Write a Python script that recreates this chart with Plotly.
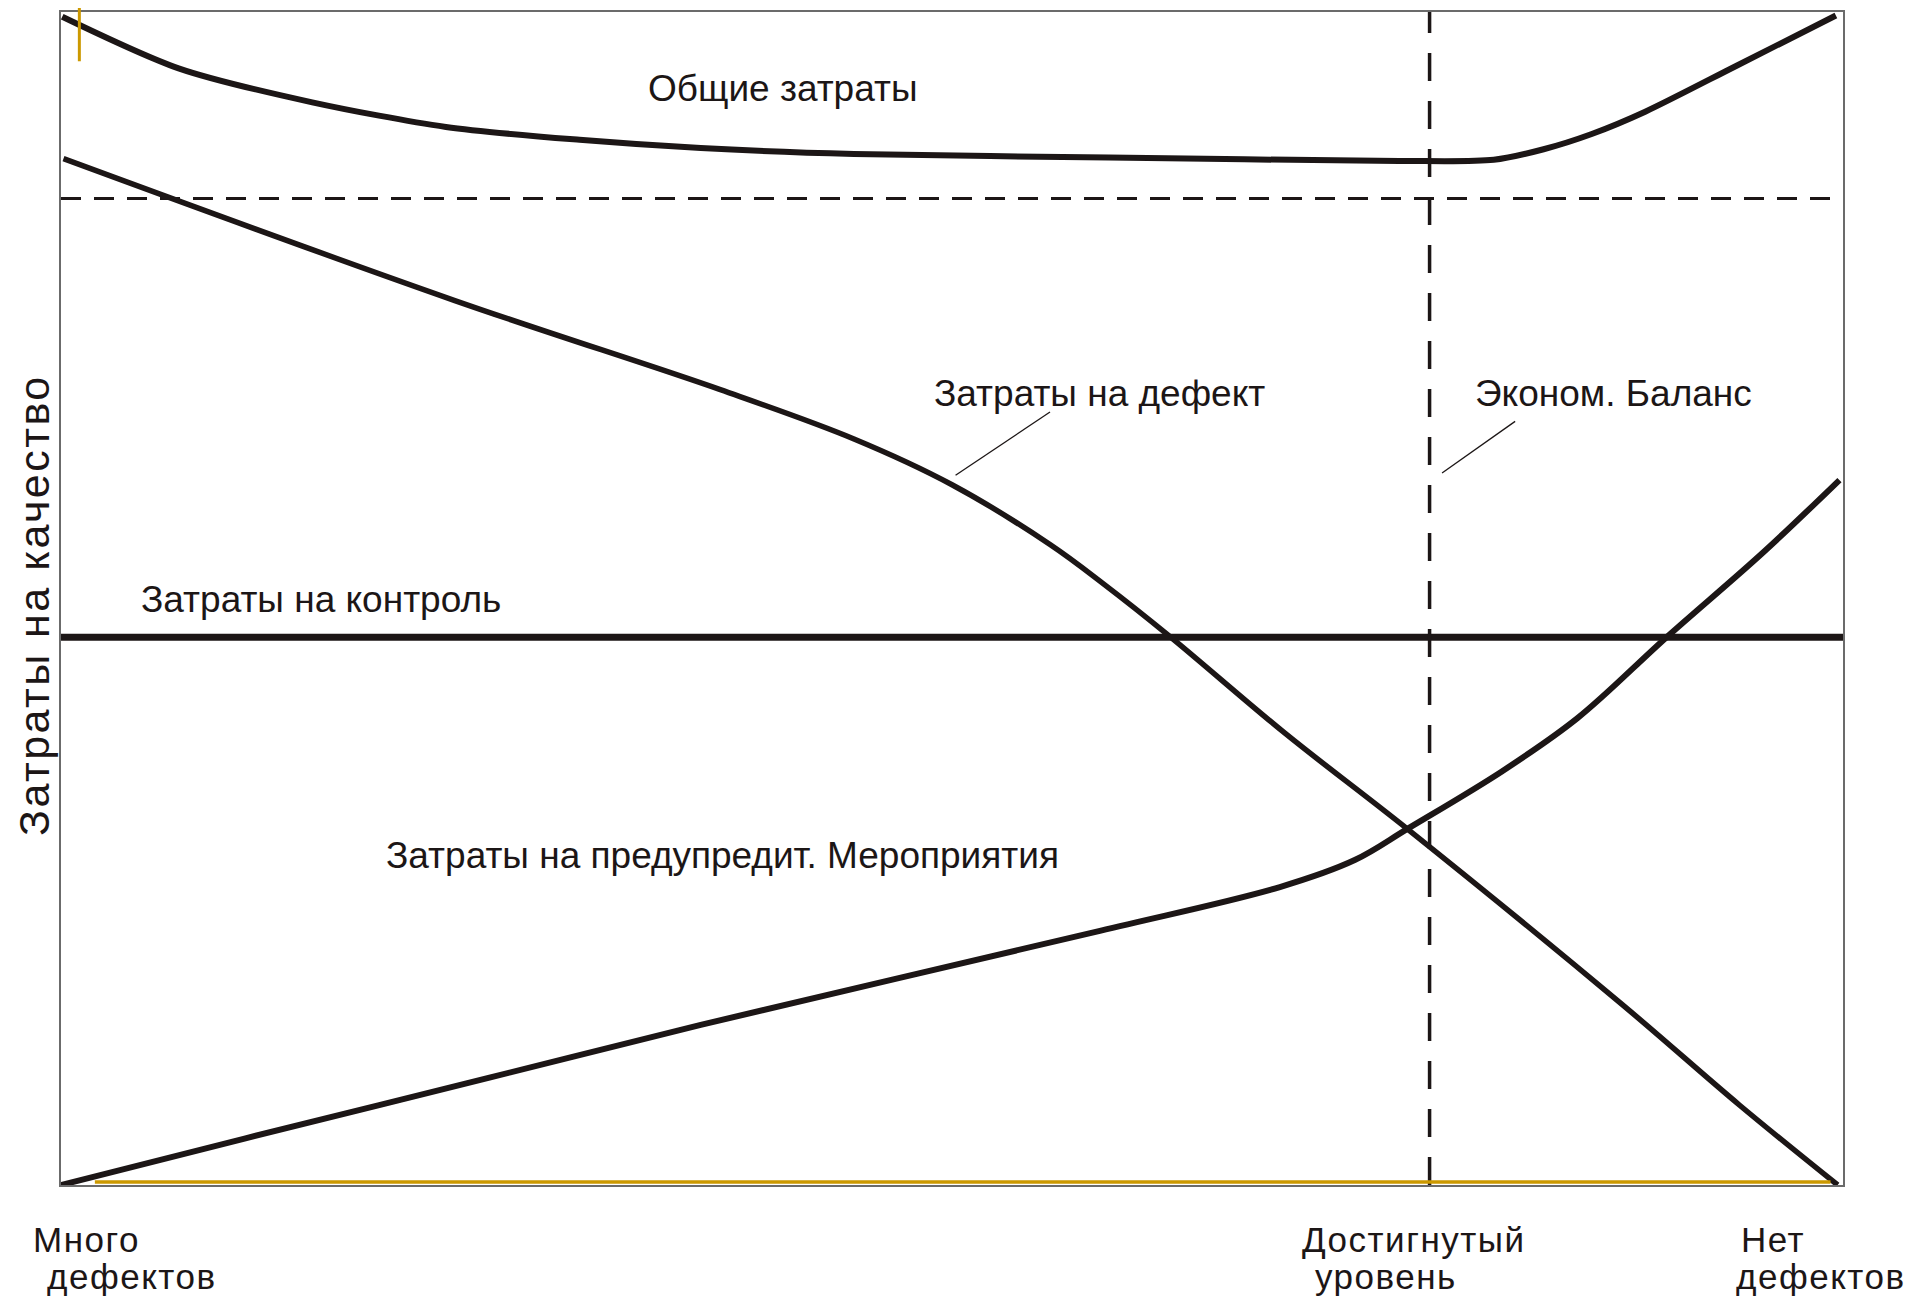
import plotly.graph_objects as go

# x: 0 = "много дефектов", 100 = "нет дефектов"; y: затраты (0..100)
total_x = [0.07, 6.6, 14.1, 21.6, 29.1, 35.9, 44.5, 58.8, 75.1, 80.4, 83.2, 85.9, 88.9, 94.0, 99.6]
total_y = [99.6, 95.2, 92.3, 90.2, 89.1, 88.4, 87.9, 87.6, 87.3, 87.4, 88.3, 89.6, 91.5, 95.4, 99.7]

defect_x = [0.14, 22.1, 37.0, 44.5, 50.0, 55.5, 58.5, 62.2, 68.7, 75.6, 87.6, 94.2, 99.7]
defect_y = [87.5, 75.4, 67.8, 63.6, 59.7, 54.6, 51.25, 46.8, 38.5, 30.3, 15.4, 6.8, 0.0]

prevent_x = [0.0, 10.3, 24.1, 35.9, 58.3, 68.4, 72.6, 75.6, 80.9, 85.1, 90.1, 95.5, 99.8]
prevent_y = [0.0, 3.96, 9.17, 13.65, 21.67, 25.4, 27.7, 30.4, 35.3, 39.8, 46.7, 53.9, 60.1]

control_x = [0, 100]
control_y = [46.7, 46.7]

ref_level_y = 84.1      # горизонтальная пунктирная линия
balance_x = 76.8        # экономический баланс

labels = ["Общие затраты", "Затраты на дефект", "Эконом. Баланс",
          "Затраты на контроль", "Затраты на предупредит. Мероприятия"]
label_x = [40.5, 58.3, 87.1, 14.6, 37.1]
label_y = [93.5, 67.5, 67.5, 49.9, 28.1]

# выноски: (x0, y0, x1, y1)
leaders = [(55.5, 65.9, 50.2, 60.5), (81.6, 65.1, 77.5, 60.7)]

# подписи под осью (доли области построения)
bottom_text = ["Много", "дефектов", "Достигнутый", "уровень", "Нет", "дефектов"]
bottom_x = [-0.0171, -0.0088, 0.6953, 0.7024, 0.9415, 0.939]
bottom_y = [-0.0468, -0.0783, -0.0468, -0.0783, -0.0468, -0.0783]

FONT = "Liberation Sans, Arial, sans-serif"
INK = "#1c1616"
GOLD = "#CC9900"


def spaced(t, px):
    return '<span style="letter-spacing:%spx">%s</span>' % (px, t)


fig = go.Figure()

for xs, ys, w, sm in [(total_x, total_y, 6, 0.8), (defect_x, defect_y, 5.5, 1.0),
                      (prevent_x, prevent_y, 6, 1.0), (control_x, control_y, 7, 1.0)]:
    fig.add_trace(go.Scatter(x=xs, y=ys, mode="lines", cliponaxis=False,
                             line=dict(color=INK, width=w, shape="spline", smoothing=sm),
                             hoverinfo="skip", showlegend=False))

# пунктирные линии
fig.add_trace(go.Scatter(x=[0, 100], y=[ref_level_y, ref_level_y], mode="lines",
                         line=dict(color=INK, width=3, dash="20px,13px"),
                         hoverinfo="skip", showlegend=False))
fig.add_trace(go.Scatter(x=[balance_x, balance_x], y=[0, 100], mode="lines",
                         line=dict(color=INK, width=3.5, dash="28px,20px"),
                         hoverinfo="skip", showlegend=False))

# жёлтые отметки
fig.add_shape(type="line", xref="x", yref="y", x0=1.9, x1=99.3, y0=0.25, y1=0.25,
              line=dict(color=GOLD, width=3.5))
fig.add_shape(type="line", xref="x", yref="paper", x0=1.03, x1=1.03, y0=0.958, y1=1.01,
              line=dict(color=GOLD, width=3))

for x0, y0, x1, y1 in leaders:
    fig.add_shape(type="line", xref="x", yref="y", x0=x0, y0=y0, x1=x1, y1=y1,
                  line=dict(color=INK, width=1.3))

for t, x, y in zip(labels, label_x, label_y):
    fig.add_annotation(x=x, y=y, text=t, showarrow=False,
                       font=dict(family=FONT, size=37, color=INK))

for t, x, y in zip(bottom_text, bottom_x, bottom_y):
    fig.add_annotation(xref="paper", yref="paper", x=x, y=y, text=spaced(t, 1.5),
                       showarrow=False, xanchor="left", yanchor="middle",
                       font=dict(family=FONT, size=35, color=INK))

fig.add_annotation(xref="paper", yref="paper", x=0, y=0.4945, xshift=-27,
                   xanchor="center", yanchor="middle",
                   text=spaced("Затраты на качество", 2.5), textangle=-90, showarrow=False,
                   font=dict(family=FONT, size=43, color=INK))

axis = dict(range=[0, 100], showgrid=False, zeroline=False, showticklabels=False,
            ticks="", showline=True, linecolor="#6b6b6b", linewidth=2, mirror=True)
fig.update_xaxes(**axis)
fig.update_yaxes(**axis)

# страница добавляет отступ 8px, поэтому размеры и поля уменьшены
fig.update_layout(width=1904, height=1295, plot_bgcolor="white", paper_bgcolor="white",
                  margin=dict(l=53, r=69, t=2, b=118))

fig.write_html("out.html")
